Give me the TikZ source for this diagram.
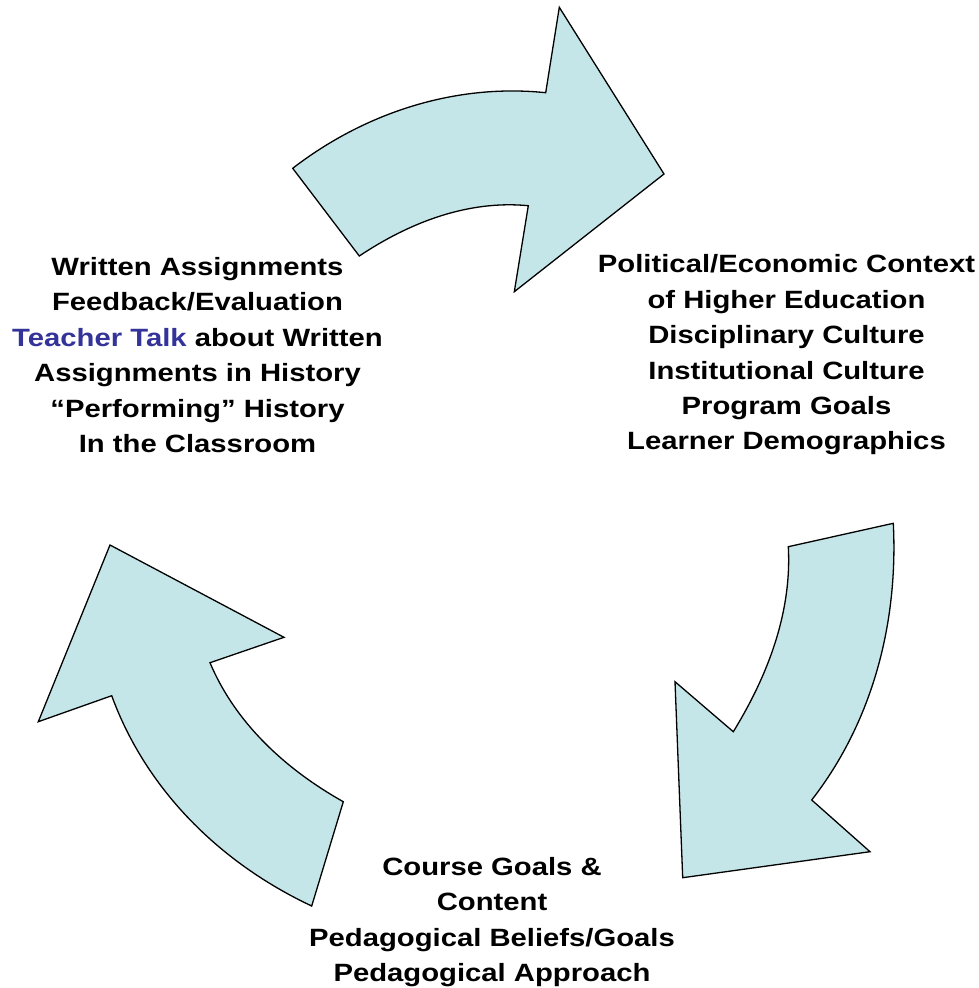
\documentclass[tikz,border=0pt]{standalone}
\usepackage{fontspec}
\setmainfont{Liberation Sans}[FakeStretch=1.17]
\definecolor{arrowfill}{RGB}{197,230,232}
\definecolor{talkblue}{RGB}{51,51,153}
\begin{document}
\begin{tikzpicture}[x=1pt,y=-1pt,
  cyclearrow/.style={fill=arrowfill,draw=black,line width=1.3pt,line join=miter},
  blocktext/.style={align=center,inner sep=0pt,font=\fontsize{25}{35.4}\selectfont\bfseries}]
\useasboundingbox (0,0) rectangle (979,988);
% top arrow
\draw[cyclearrow] (292.7,168.3) .. controls (364.8,112.7) and (455.2,83.3) .. (545.7,92.7)
  -- (559.3,7.3) -- (664,174) -- (514.3,291.7) -- (528.3,205.7)
  .. controls (468.1,199.9) and (409.6,222.4) .. (359.3,256) -- cycle;
% right arrow
\draw[cyclearrow] (893.3,523.3) .. controls (898.3,622.6) and (872.7,721.6) .. (811.7,800)
  -- (870,851.7) -- (682.7,877.7) -- (675,681.7) -- (733.3,731.7)
  .. controls (767.8,675.5) and (791.9,612.5) .. (788.3,546.7) -- cycle;
% left arrow
\draw[cyclearrow] (311.7,906) .. controls (220.6,863.2) and (146.3,790.3) .. (111.7,695.7)
  -- (38.3,721.7) -- (110,545) -- (284,637.3) -- (210,662.7)
  .. controls (235.6,723.4) and (285.8,769.4) .. (343.3,801.7) -- cycle;
\node[blocktext] (left) at (197.5,355) {Written Assignments\\Feedback/Evaluation\\
  \textcolor{talkblue}{Teacher Talk} about Written\\Assignments in History\\
  “Performing” History\\In the Classroom};
\node[blocktext] (right) at (786.5,355) {Political/Economic Context\\of Higher Education\\
  Disciplinary Culture\\Institutional Culture\\Program Goals\\Learner Demographics};
\node[blocktext] (bottom) at (492,922) {Course Goals \&\\Content\\
  Pedagogical Beliefs/Goals\\Pedagogical Approach};
\end{tikzpicture}
\end{document}
